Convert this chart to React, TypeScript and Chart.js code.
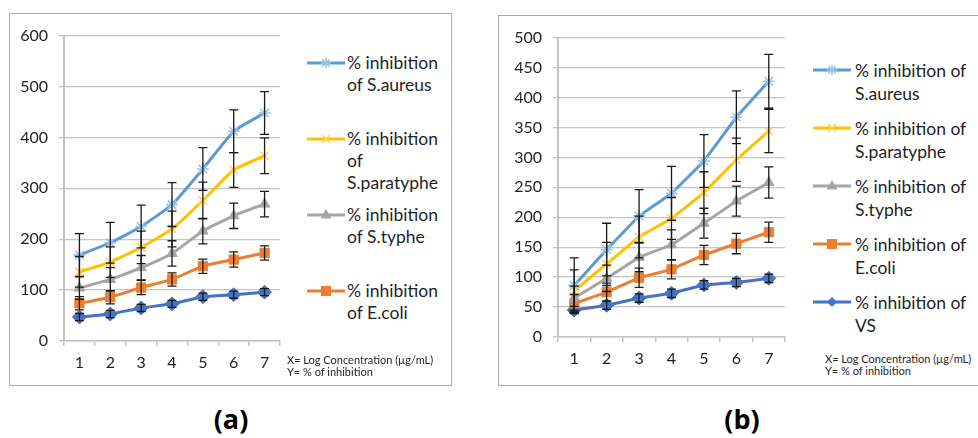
import React, { useEffect, useRef } from 'react';
import { Chart, registerables } from 'chart.js';

Chart.register(...registerables);

// ---------- data ----------
const categories = ['1', '2', '3', '4', '5', '6', '7'];

// panel (a)
const aAureus = [169, 193, 225, 268, 338, 412, 448];
const aAureusErr = [42, 40, 42, 43, 42, 42, 42];
const aParatyphe = [136, 155, 184, 220, 276, 336, 364];
const aParatypheErr = [30, 30, 32, 35, 36, 34, 35];
const aTyphe = [104, 121, 144, 172, 216, 246, 269];
const aTypheErr = [22, 23, 24, 25, 25, 25, 25];
const aEcoli = [74, 86, 105, 121, 147, 160, 173];
const aEcoliErr = [13, 13, 14, 13, 14, 15, 14];
const aVS = [47, 53, 65, 73, 87, 91, 96];
const aVSErr = [7, 7, 7, 7, 7, 7, 7];
const aYTicks = { min: 0, max: 600, step: 100 };

// panel (b)
const bAureus = [86, 146, 202, 240, 294, 367, 427];
const bAureusErr = [46, 44, 44, 45, 44, 44, 45];
const bParatyphe = [77, 122, 167, 198, 241, 296, 344];
const bParatypheErr = [35, 36, 35, 35, 35, 36, 36];
const bTyphe = [65, 98, 133, 154, 190, 227, 258];
const bTypheErr = [20, 22, 24, 25, 25, 25, 26];
const bEcoli = [56, 75, 99, 113, 137, 156, 175];
const bEcoliErr = [15, 15, 16, 16, 16, 17, 17];
const bVS = [45, 53, 65, 73, 87, 91, 98];
const bVSErr = [6, 7, 7, 7, 7, 7, 7];
const bYTicks = { min: 0, max: 500, step: 50 };

const seriesNames = {
  aureus: '% inhibition of S.aureus',
  paratyphe: '% inhibition of S.paratyphe',
  typhe: '% inhibition of S.typhe',
  ecoli: '% inhibition of E.coli',
  vs: '% inhibition of VS',
};

// ---------- styles ----------
const C = {
  aureus: '#5B9BD5',
  aureusMk: '#9DC3E6',
  paratyphe: '#FFC000',
  paratypheMk: '#FFD34D',
  typhe: '#A5A5A5',
  ecoli: '#ED7D31',
  vs: '#4472C4',
};
const FONT = 'Lato, "Open Sans", sans-serif';
const TEXT = '#1f1f1f';
const GRID = '#C3C3C3';

type Series = {
  key: keyof typeof C;
  label: string;
  data: number[];
  err: number[];
  color: string;
  mk: string;
  style: string;
  radius: number;
  fill: boolean;
};

const makeSeries = (
  aureus: number[], aureusErr: number[],
  paratyphe: number[], paratypheErr: number[],
  typhe: number[], typheErr: number[],
  ecoli: number[], ecoliErr: number[],
  vs: number[], vsErr: number[],
): Series[] => [
  { key: 'aureus', label: seriesNames.aureus, data: aureus, err: aureusErr, color: C.aureus, mk: C.aureusMk, style: 'star', radius: 6, fill: false },
  { key: 'paratyphe', label: seriesNames.paratyphe, data: paratyphe, err: paratypheErr, color: C.paratyphe, mk: C.paratypheMk, style: 'crossRot', radius: 6, fill: false },
  { key: 'typhe', label: seriesNames.typhe, data: typhe, err: typheErr, color: C.typhe, mk: C.typhe, style: 'triangle', radius: 6, fill: true },
  { key: 'ecoli', label: seriesNames.ecoli, data: ecoli, err: ecoliErr, color: C.ecoli, mk: C.ecoli, style: 'rect', radius: 6.5, fill: true },
  { key: 'vs', label: seriesNames.vs, data: vs, err: vsErr, color: C.vs, mk: C.vs, style: 'rectRot', radius: 7, fill: true },
];

const errorBarPlugin = {
  id: 'errorBars',
  afterDatasetsDraw(chart: any) {
    const { ctx } = chart;
    const y = chart.scales.y;
    ctx.save();
    ctx.strokeStyle = '#1a1a1a';
    ctx.lineWidth = 1.3;
    chart.data.datasets.forEach((ds: any, di: number) => {
      const meta = chart.getDatasetMeta(di);
      const errs: number[] = ds.errors || [];
      meta.data.forEach((pt: any, i: number) => {
        const v = ds.data[i];
        const e = errs[i];
        if (e == null) return;
        const x = pt.x;
        const yt = y.getPixelForValue(v + e);
        const yb = y.getPixelForValue(v - e);
        ctx.beginPath();
        ctx.moveTo(x, yt);
        ctx.lineTo(x, yb);
        ctx.moveTo(x - 4.5, yt);
        ctx.lineTo(x + 4.5, yt);
        ctx.moveTo(x - 4.5, yb);
        ctx.lineTo(x + 4.5, yb);
        ctx.stroke();
      });
    });
    ctx.restore();
  },
};

type PanelProps = {
  series: Series[];
  yTicks: { min: number; max: number; step: number };
  left: number;
  top: number;
  width: number;
  height: number;
  yAxisWidth: number;
  xAxisHeight: number;
  padTop: number;
  padRight: number;
  tension: number;
};

function LineChart(p: PanelProps) {
  const ref = useRef<HTMLCanvasElement>(null);
  useEffect(() => {
    if (!ref.current) return;
    const chart = new Chart(ref.current, {
      type: 'line',
      data: {
        labels: categories,
        datasets: p.series.map((s) => ({
          label: s.label,
          data: s.data,
          errors: s.err,
          borderColor: s.color,
          backgroundColor: s.color,
          borderWidth: 3,
          tension: p.tension,
          pointStyle: s.style,
          pointRadius: s.radius,
          pointBorderColor: s.mk,
          pointBackgroundColor: s.fill ? s.mk : 'rgba(0,0,0,0)',
          pointBorderWidth: s.fill ? 1 : 1.6,
          fill: false,
        })) as any,
      },
      options: {
        animation: false,
        responsive: false,
        maintainAspectRatio: false,
        events: [],
        layout: { padding: { top: p.padTop, right: p.padRight, left: 0, bottom: 0 } },
        plugins: { legend: { display: false }, tooltip: { enabled: false }, title: { display: false } },
        scales: {
          x: {
            type: 'category',
            offset: true,
            afterFit: (s: any) => { s.height = p.xAxisHeight; },
            grid: { offset: true, drawOnChartArea: false, drawTicks: true, tickLength: 5, color: GRID, lineWidth: 1.5 },
            border: { display: true, color: GRID, width: 1.5 },
            ticks: { color: TEXT, font: { family: FONT, size: 16 }, padding: 7, maxRotation: 0, autoSkip: false },
          },
          y: {
            min: p.yTicks.min,
            max: p.yTicks.max,
            afterFit: (s: any) => { s.width = p.yAxisWidth; },
            grid: { color: GRID, lineWidth: 1.3, drawTicks: true, tickLength: 5 },
            border: { display: true, color: GRID, width: 2 },
            ticks: { stepSize: p.yTicks.step, color: TEXT, font: { family: FONT, size: 16 }, padding: 11 },
          },
        },
      },
      plugins: [errorBarPlugin],
    } as any);
    return () => chart.destroy();
  }, []);
  return (
    <canvas
      ref={ref}
      width={p.width}
      height={p.height}
      style={{ position: 'absolute', left: p.left, top: p.top, width: p.width, height: p.height }}
    />
  );
}

function Marker({ style, color, mk }: { style: string; color: string; mk: string }) {
  const cx = 19, cy = 7, r = 5;
  let shape: React.ReactNode = null;
  if (style === 'star') {
    shape = (
      <g stroke={mk} strokeWidth={1.5}>
        <line x1={cx - r} y1={cy} x2={cx + r} y2={cy} />
        <line x1={cx} y1={cy - r} x2={cx} y2={cy + r} />
        <line x1={cx - 3.6} y1={cy - 3.6} x2={cx + 3.6} y2={cy + 3.6} />
        <line x1={cx - 3.6} y1={cy + 3.6} x2={cx + 3.6} y2={cy - 3.6} />
      </g>
    );
  } else if (style === 'crossRot') {
    shape = (
      <g stroke={mk} strokeWidth={1.5}>
        <line x1={cx - 4} y1={cy - 4} x2={cx + 4} y2={cy + 4} />
        <line x1={cx - 4} y1={cy + 4} x2={cx + 4} y2={cy - 4} />
      </g>
    );
  } else if (style === 'triangle') {
    shape = <polygon points={`${cx},${cy - 6} ${cx + 5.5},${cy + 3.5} ${cx - 5.5},${cy + 3.5}`} fill={mk} />;
  } else if (style === 'rect') {
    shape = <rect x={cx - 5} y={cy - 5} width={10} height={10} fill={mk} />;
  } else if (style === 'rectRot') {
    shape = <polygon points={`${cx},${cy - 5} ${cx + 5},${cy} ${cx},${cy + 5} ${cx - 5},${cy}`} fill={mk} />;
  }
  return (
    <svg width={38} height={14} style={{ display: 'block', flex: 'none' }}>
      <line x1={0} y1={cy} x2={38} y2={cy} stroke={color} strokeWidth={3} />
      {shape}
    </svg>
  );
}

type LegendItem = { series: Series; lines: string[]; center: number };

function Legend({ items, left, textLeft, lineHeight, fontSize }: { items: LegendItem[]; left: number; textLeft: number; lineHeight: number; fontSize: number }) {
  return (
    <>
      {items.map((it, i) => (
        <div key={i} style={{ position: 'absolute', left, top: it.center - lineHeight / 2 }}>
          <div style={{ position: 'absolute', left: 0, top: lineHeight / 2 - 7 }}>
            <Marker style={it.series.style} color={it.series.color} mk={it.series.mk} />
          </div>
          <div
            style={{
              position: 'absolute',
              left: textLeft - left,
              top: 0,
              whiteSpace: 'nowrap',
              fontFamily: FONT,
              fontSize,
              lineHeight: `${lineHeight}px`,
              color: TEXT,
            }}
          >
            {it.lines.map((l, j) => (
              <div key={j}>{l}</div>
            ))}
          </div>
        </div>
      ))}
    </>
  );
}

function Note({ left, top }: { left: number; top: number }) {
  return (
    <div style={{ position: 'absolute', left, top, fontFamily: FONT, fontSize: 11, lineHeight: '12px', color: '#262626', whiteSpace: 'nowrap' }}>
      <div>X= Log Concentration (µg/mL)</div>
      <div>Y= % of inhibition</div>
    </div>
  );
}

export default function App() {
  const sa = makeSeries(aAureus, aAureusErr, aParatyphe, aParatypheErr, aTyphe, aTypheErr, aEcoli, aEcoliErr, aVS, aVSErr);
  const sb = makeSeries(bAureus, bAureusErr, bParatyphe, bParatypheErr, bTyphe, bTypheErr, bEcoli, bEcoliErr, bVS, bVSErr);

  const legendA: LegendItem[] = [
    { series: sa[0], lines: ['% inhibition', 'of S.aureus'], center: 63 },
    { series: sa[1], lines: ['% inhibition', 'of', 'S.paratyphe'], center: 139 },
    { series: sa[2], lines: ['% inhibition', 'of S.typhe'], center: 215 },
    { series: sa[3], lines: ['% inhibition', 'of E.coli'], center: 291 },
  ];
  const legendB: LegendItem[] = [
    { series: sb[0], lines: ['% inhibition of', 'S.aureus'], center: 70 },
    { series: sb[1], lines: ['% inhibition of', 'S.paratyphe'], center: 128 },
    { series: sb[2], lines: ['% inhibition of', 'S.typhe'], center: 186 },
    { series: sb[3], lines: ['% inhibition of', 'E.coli'], center: 244 },
    { series: sb[4], lines: ['% inhibition of', 'VS'], center: 302 },
  ];

  return (
    <div style={{ position: 'absolute', left: 0, top: 0, width: 978, height: 438, background: '#fff', overflow: 'hidden' }}>
      <div style={{ position: 'absolute', left: 9, top: 13, width: 441, height: 371, border: '1.5px solid #B0B0B0' }} />
      <div style={{ position: 'absolute', left: 498, top: 15, width: 520, height: 369, border: '1.5px solid #A8A8A8' }} />

      <LineChart
        series={sa}
        yTicks={aYTicks}
        left={10}
        top={15}
        width={280}
        height={360}
        yAxisWidth={54}
        xAxisHeight={34}
        padTop={18}
        padRight={10}
        tension={0.15}
      />
      <LineChart
        series={sb}
        yTicks={bYTicks}
        left={500}
        top={17}
        width={295}
        height={355}
        yAxisWidth={58}
        xAxisHeight={35}
        padTop={18}
        padRight={10}
        tension={0.05}
      />

      <Legend items={legendA} left={307} textLeft={347} lineHeight={22} fontSize={17.5} />
      <Legend items={legendB} left={813} textLeft={855} lineHeight={23} fontSize={17.5} />

      <Note left={287} top={354} />
      <Note left={825} top={353} />

      <div style={{ position: 'absolute', left: 181, top: 400, width: 100, textAlign: 'center', fontFamily: '"Open Sans", sans-serif', fontWeight: 700, fontSize: 27, color: '#000' }}>(a)</div>
      <div style={{ position: 'absolute', left: 692, top: 400, width: 100, textAlign: 'center', fontFamily: '"Open Sans", sans-serif', fontWeight: 700, fontSize: 27, color: '#000' }}>(b)</div>
    </div>
  );
}
